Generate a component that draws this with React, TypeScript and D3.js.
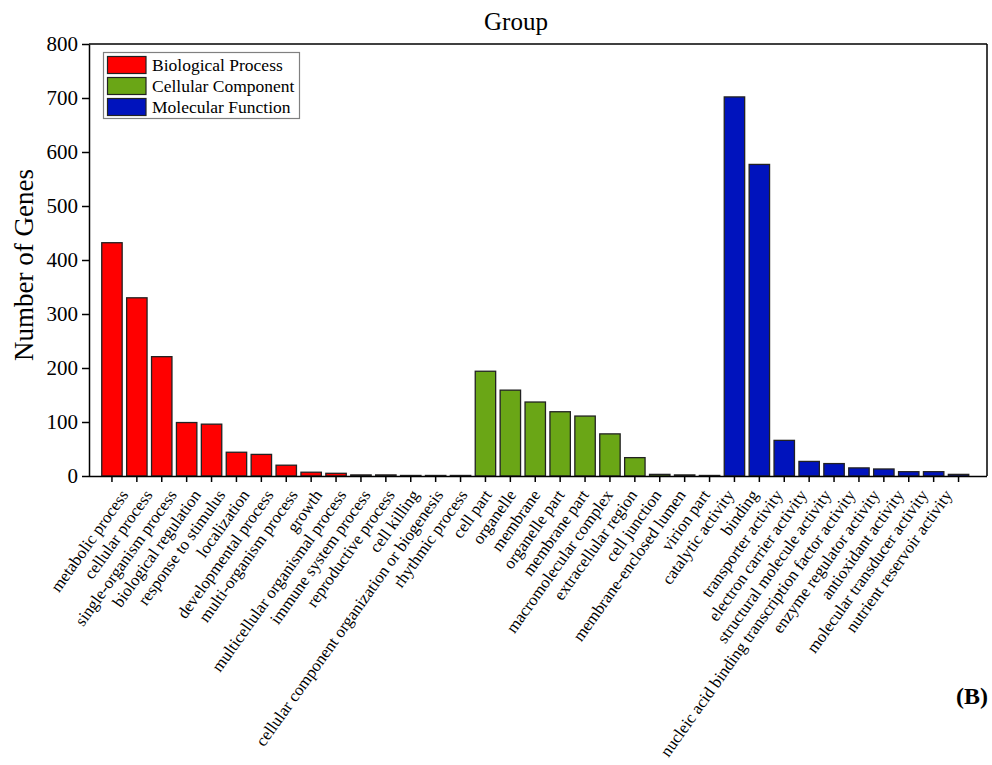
import React, { useEffect, useRef } from "react";
import * as d3 from "d3";

const bpTerms = [
  "metabolic process", "cellular process", "single-organism process", "biological regulation",
  "response to stimulus", "localization", "developmental process", "multi-organism process",
  "growth", "multicellular organismal process", "immune system process", "reproductive process",
  "cell killing", "cellular component organization or biogenesis", "rhythmic process",
];
const bpValues = [432, 330, 221, 99, 96, 44, 40, 20, 7, 5, 2, 2, 1, 1, 1];

const ccTerms = [
  "cell part", "organelle", "membrane", "organelle part", "membrane part",
  "macromolecular complex", "extracellular region", "cell junction", "membrane-enclosed lumen", "virion part",
];
const ccValues = [194, 159, 137, 119, 111, 78, 34, 3, 2, 1];

const mfTerms = [
  "catalytic activity", "binding", "transporter activity", "electron carrier activity",
  "structural molecule activity", "nucleic acid binding transcription factor activity",
  "enzyme regulator activity", "antioxidant activity", "molecular transducer activity",
  "nutrient reservoir activity",
];
const mfValues = [702, 577, 66, 27, 23, 15, 13, 8, 8, 3];

const groupNames = ["Biological Process", "Cellular Component", "Molecular Function"];
const groupColors = ["#ff0000", "#6aa616", "#0013bd"];
const yTicks = [0, 100, 200, 300, 400, 500, 600, 700, 800];

export default function App() {
  const ref = useRef<SVGSVGElement>(null);

  useEffect(() => {
    const svg = d3.select(ref.current);
    svg.selectAll("*").remove();
    const W = 992, H = 765;
    const left = 89, right = 987, top = 44, bottom = 476;
    const font = "'Liberation Serif', 'Times New Roman', serif";

    const data = [
      ...bpTerms.map((t, i) => ({ term: t, value: bpValues[i], g: 0 })),
      ...ccTerms.map((t, i) => ({ term: t, value: ccValues[i], g: 1 })),
      ...mfTerms.map((t, i) => ({ term: t, value: mfValues[i], g: 2 })),
    ];

    const x = d3.scaleBand<string>()
      .domain(data.map((d) => d.term))
      .range([99.5, 971])
      .paddingInner(0.18)
      .paddingOuter(0.09);
    const xLab = d3.scalePoint<string>()
      .domain(data.map((d) => d.term))
      .range([129, 953]);
    const y = d3.scaleLinear().domain([0, 800]).range([bottom, top]);

    const g = svg.append("g");

    // bars
    g.selectAll("rect.bar")
      .data(data)
      .enter()
      .append("rect")
      .attr("class", "bar")
      .attr("x", (d) => x(d.term)!)
      .attr("width", x.bandwidth())
      .attr("y", (d) => y(d.value))
      .attr("height", (d) => bottom - y(d.value))
      .attr("fill", (d) => groupColors[d.g])
      .attr("stroke", "#222")
      .attr("stroke-width", 1.3);

    // frame top and right
    g.append("line").attr("x1", left).attr("x2", right).attr("y1", top).attr("y2", top)
      .attr("stroke", "#000").attr("stroke-width", 1.5);
    g.append("line").attr("x1", right).attr("x2", right).attr("y1", top).attr("y2", bottom)
      .attr("stroke", "#000").attr("stroke-width", 1.5);

    // y axis
    const yAxis = g.append("g").attr("transform", `translate(${left},0)`)
      .call(d3.axisLeft(y).tickValues(yTicks).tickSize(7).tickSizeOuter(0).tickPadding(4));
    yAxis.select(".domain").attr("stroke-width", 1.5);
    yAxis.selectAll(".tick line").attr("stroke-width", 1.5);
    yAxis.selectAll("text").attr("font-family", font).attr("font-size", 21).attr("fill", "#000");

    // x axis
    const xAxis = g.append("g").attr("transform", `translate(0,${bottom})`)
      .call(d3.axisBottom(x).tickSize(6).tickSizeOuter(0).tickFormat(() => ""));
    xAxis.select(".domain").attr("d", `M${left},0.5H${right}`).attr("stroke-width", 1.5);
    xAxis.selectAll(".tick line").attr("stroke-width", 1.5);

    // x labels
    g.selectAll("text.xlab")
      .data(data)
      .enter()
      .append("text")
      .attr("class", "xlab")
      .attr("text-anchor", "end")
      .attr("font-family", font)
      .attr("font-size", 16.8)
      .attr("fill", "#000")
      .attr("transform", (d) => `translate(${xLab(d.term)},${bottom + 19}) rotate(-54.5)`)
      .text((d) => d.term);

    // title
    g.append("text").attr("x", 516).attr("y", 30).attr("text-anchor", "middle")
      .attr("font-family", font).attr("font-size", 25).attr("fill", "#000").text("Group");

    // y label
    g.append("text")
      .attr("transform", `translate(33,265) rotate(-90)`)
      .attr("text-anchor", "middle")
      .attr("font-family", font).attr("font-size", 27).attr("fill", "#000")
      .text("Number of Genes");

    // legend
    const lg = g.append("g");
    lg.append("rect").attr("x", 103.5).attr("y", 52.5).attr("width", 196).attr("height", 66)
      .attr("fill", "#fff").attr("stroke", "#808080").attr("stroke-width", 1.2);
    groupNames.forEach((name, i) => {
      const yy = 56.5 + i * 21;
      lg.append("rect").attr("x", 107.5).attr("y", yy).attr("width", 38.5).attr("height", 17)
        .attr("fill", groupColors[i]).attr("stroke", "#222").attr("stroke-width", 1.2);
      lg.append("text").attr("x", 152).attr("y", yy + 14).attr("font-family", font)
        .attr("font-size", 17.5).attr("fill", "#000").text(name);
    });

    // panel label
    g.append("text").attr("x", 988).attr("y", 704).attr("text-anchor", "end")
      .attr("font-family", font).attr("font-size", 24).attr("font-weight", "bold")
      .attr("fill", "#000").text("(B)");

    svg.attr("width", W).attr("height", H);
  }, []);

  return (
    <svg ref={ref} width={992} height={765}
      style={{ position: "absolute", left: 0, top: 0, background: "#fff" }} />
  );
}
